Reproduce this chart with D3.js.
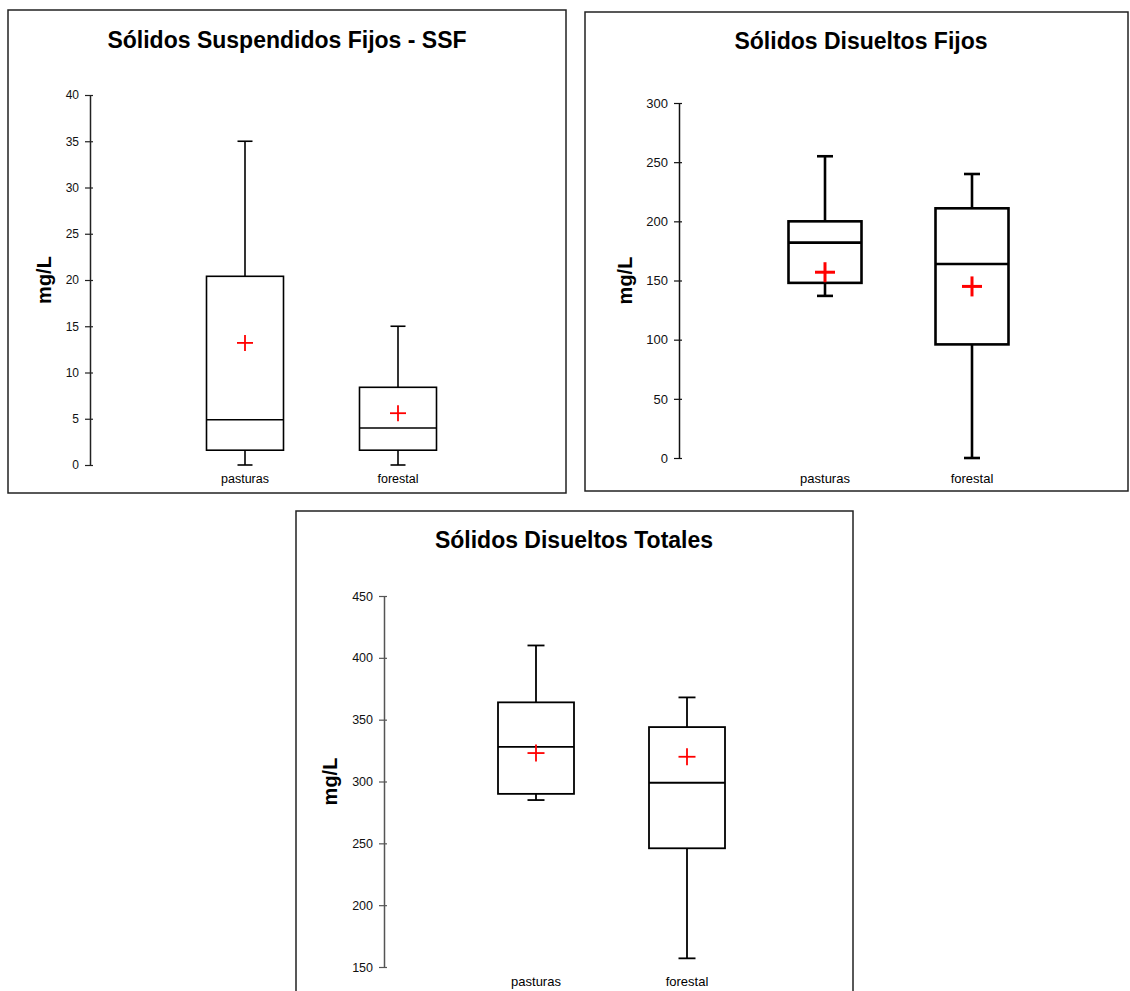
<!DOCTYPE html>
<meta charset="utf-8">
<style>
body { margin: 0; background: #fff; }
svg { display: block; font-family: "Liberation Sans", Arial, sans-serif; }
.title { font-weight: bold; font-size: 23px; text-anchor: middle; }
.ylab { font-weight: bold; font-size: 20px; text-anchor: middle; }
.xlab { text-anchor: middle; }
</style>
<body>
<script src="https://d3js.org/d3.v7.min.js"></script>
<script>

// categories
var categories = ["pasturas", "forestal"];

// Sólidos Suspendidos Fijos - SSF
var ssfMin    = [0, 0];
var ssfQ1     = [1.6, 1.6];
var ssfMedian = [4.9, 4.0];
var ssfQ3     = [20.4, 8.4];
var ssfMax    = [35, 15];
var ssfMean   = [13.2, 5.6];
var ssfTicks  = [0, 5, 10, 15, 20, 25, 30, 35, 40];

// Sólidos Disueltos Fijos
var sdfMin    = [137, 0];
var sdfQ1     = [148, 96];
var sdfMedian = [182, 164];
var sdfQ3     = [200, 211];
var sdfMax    = [255, 240];
var sdfMean   = [157, 145];
var sdfTicks  = [0, 50, 100, 150, 200, 250, 300];

// Sólidos Disueltos Totales
var sdtMin    = [285, 157];
var sdtQ1     = [290, 246];
var sdtMedian = [328, 299];
var sdtQ3     = [364, 344];
var sdtMax    = [410, 368];
var sdtMean   = [323, 320];
var sdtTicks  = [150, 200, 250, 300, 350, 400, 450];

var width = 1130,
    height = 991;

var svg = d3.select("body").append("svg")
    .attr("width", width)
    .attr("height", height);

var panels = [
  { title: "Sólidos Suspendidos Fijos - SSF",
    min: ssfMin, q1: ssfQ1, med: ssfMedian, q3: ssfQ3, max: ssfMax, mean: ssfMean, ticks: ssfTicks,
    frame: [8, 10, 558, 483], titleX: 287, titleY: 48,
    axisX: 90, yTop: 95, yBot: 465, centers: [245, 398], boxW: 77, capW: 15, cross: 16,
    sw: 1.6, crossSw: 1.8, tickSize: 12, xlabSize: 12.5, axisColor: "#222", ylabX: 51, xlabY: 483 },
  { title: "Sólidos Disueltos Fijos",
    min: sdfMin, q1: sdfQ1, med: sdfMedian, q3: sdfQ3, max: sdfMax, mean: sdfMean, ticks: sdfTicks,
    frame: [585, 12, 543, 479], titleX: 861, titleY: 49,
    axisX: 679, yTop: 103, yBot: 458, centers: [825, 972], boxW: 73, capW: 16, cross: 20,
    sw: 2.6, crossSw: 3, tickSize: 13, xlabSize: 13, axisColor: "#111", ylabX: 632, xlabY: 483 },
  { title: "Sólidos Disueltos Totales",
    min: sdtMin, q1: sdtQ1, med: sdtMedian, q3: sdtQ3, max: sdtMax, mean: sdtMean, ticks: sdtTicks,
    frame: [296, 511, 557, 490], titleX: 574, titleY: 548,
    axisX: 384, yTop: 596, yBot: 967, centers: [536, 687], boxW: 76, capW: 17, cross: 17,
    sw: 1.8, crossSw: 1.8, tickSize: 12.5, xlabSize: 13, axisColor: "#555", ylabX: 337, xlabY: 986 }
];

panels.forEach(function(p) {
  var g = svg.append("g");

  g.append("rect")
      .attr("x", p.frame[0]).attr("y", p.frame[1])
      .attr("width", p.frame[2]).attr("height", p.frame[3])
      .style("fill", "none")
      .style("stroke", "#222")
      .style("stroke-width", 1.5);

  g.append("text")
      .attr("class", "title")
      .attr("x", p.titleX).attr("y", p.titleY)
      .text(p.title);

  var y = d3.scaleLinear()
      .domain(d3.extent(p.ticks))
      .range([p.yBot, p.yTop]);

  var x = d3.scalePoint()
      .domain(categories)
      .range(p.centers);

  var axis = g.append("g")
      .attr("transform", "translate(" + p.axisX + ",0)")
      .call(d3.axisLeft(y).tickValues(p.ticks).tickSize(5).tickPadding(6).tickSizeOuter(0));
  axis.select(".domain").style("stroke", p.axisColor).style("stroke-width", 1.5);
  axis.selectAll(".tick line").style("stroke", p.axisColor).style("stroke-width", 1.2).attr("x2", -5).attr("x1", 3);
  axis.selectAll(".tick text").style("font-size", p.tickSize + "px").style("fill", "#111");

  g.append("text")
      .attr("class", "ylab")
      .attr("transform", "translate(" + p.ylabX + "," + ((p.yTop + p.yBot) / 2) + ") rotate(-90)")
      .text("mg/L");

  g.selectAll("text.xlab")
      .data(categories)
      .enter().append("text")
      .attr("class", "xlab")
      .attr("x", function(d) { return x(d); })
      .attr("y", p.xlabY)
      .style("font-size", p.xlabSize + "px")
      .text(function(d) { return d; });

  var box = g.selectAll("g.box")
      .data(categories)
      .enter().append("g")
      .attr("class", "box")
      .style("stroke", "#000")
      .style("stroke-width", p.sw)
      .style("fill", "none");

  // whiskers
  box.append("line")
      .attr("x1", function(d) { return x(d); })
      .attr("x2", function(d) { return x(d); })
      .attr("y1", function(d, i) { return y(p.max[i]); })
      .attr("y2", function(d, i) { return y(p.q3[i]); });
  box.append("line")
      .attr("x1", function(d) { return x(d); })
      .attr("x2", function(d) { return x(d); })
      .attr("y1", function(d, i) { return y(p.q1[i]); })
      .attr("y2", function(d, i) { return y(p.min[i]); });
  // caps
  box.append("line")
      .attr("x1", function(d) { return x(d) - p.capW / 2; })
      .attr("x2", function(d) { return x(d) + p.capW / 2; })
      .attr("y1", function(d, i) { return y(p.max[i]); })
      .attr("y2", function(d, i) { return y(p.max[i]); });
  box.append("line")
      .attr("x1", function(d) { return x(d) - p.capW / 2; })
      .attr("x2", function(d) { return x(d) + p.capW / 2; })
      .attr("y1", function(d, i) { return y(p.min[i]); })
      .attr("y2", function(d, i) { return y(p.min[i]); });
  // box
  box.append("rect")
      .attr("x", function(d) { return x(d) - p.boxW / 2; })
      .attr("width", p.boxW)
      .attr("y", function(d, i) { return y(p.q3[i]); })
      .attr("height", function(d, i) { return y(p.q1[i]) - y(p.q3[i]); });
  // median
  box.append("line")
      .attr("x1", function(d) { return x(d) - p.boxW / 2; })
      .attr("x2", function(d) { return x(d) + p.boxW / 2; })
      .attr("y1", function(d, i) { return y(p.med[i]); })
      .attr("y2", function(d, i) { return y(p.med[i]); });
  // mean cross
  var cross = g.selectAll("g.mean")
      .data(categories)
      .enter().append("g")
      .attr("class", "mean")
      .style("stroke", "#ff0000")
      .style("stroke-width", p.crossSw);
  cross.append("line")
      .attr("x1", function(d) { return x(d) - p.cross / 2; })
      .attr("x2", function(d) { return x(d) + p.cross / 2; })
      .attr("y1", function(d, i) { return y(p.mean[i]); })
      .attr("y2", function(d, i) { return y(p.mean[i]); });
  cross.append("line")
      .attr("x1", function(d) { return x(d); })
      .attr("x2", function(d) { return x(d); })
      .attr("y1", function(d, i) { return y(p.mean[i]) - p.cross / 2; })
      .attr("y2", function(d, i) { return y(p.mean[i]) + p.cross / 2; });
});

</script>
